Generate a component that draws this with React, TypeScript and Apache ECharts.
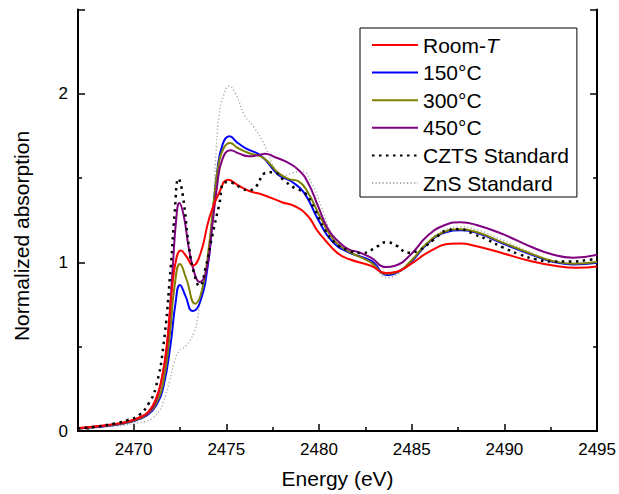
import React, { useEffect, useRef } from 'react';
import * as echarts from 'echarts';

const FONT = '"Liberation Sans", Arial, Helvetica, sans-serif';

const legendNames = ['Room-T', '150°C', '300°C', '450°C', 'CZTS Standard', 'ZnS Standard'];
const xTitle = 'Energy (eV)';
const yTitle = 'Normalized absorption';
const xRange = [2467, 2495];
const yRange = [0, 2.5];

const roomT: [number, number][] = [
  [2467, 0.018], [2468, 0.028], [2469, 0.042], [2469.7, 0.058], [2470.3, 0.08], [2470.8, 0.115],
  [2471.2, 0.19], [2471.5, 0.3], [2471.8, 0.52], [2472.05, 0.82], [2472.3, 1.02], [2472.55, 1.07],
  [2472.85, 1.035], [2473.2, 0.982], [2473.6, 1.05], [2474.1, 1.27], [2474.6, 1.41], [2475.1, 1.49],
  [2475.6, 1.46], [2476.2, 1.425], [2477.0, 1.4], [2478.0, 1.357], [2478.7, 1.333], [2479.4, 1.275],
  [2479.9, 1.19], [2480.3, 1.136], [2481.0, 1.055], [2481.6, 1.02], [2482.8, 0.98], [2483.6, 0.937],
  [2484.2, 0.945], [2484.95, 0.99], [2486.0, 1.067], [2487.1, 1.11], [2487.6, 1.112], [2488.5, 1.096],
  [2489.95, 1.053], [2491.4, 1.008], [2492.8, 0.978], [2493.9, 0.968], [2495, 0.975],
];

const c150: [number, number][] = [
  [2467, 0.015], [2468, 0.024], [2469, 0.036], [2469.7, 0.05], [2470.3, 0.07], [2470.8, 0.1],
  [2471.2, 0.15], [2471.6, 0.26], [2472.0, 0.52], [2472.25, 0.75], [2472.5, 0.866], [2472.8, 0.8],
  [2473.17, 0.712], [2473.55, 0.755], [2474.0, 0.98], [2474.25, 1.26], [2474.5, 1.53], [2474.8, 1.7],
  [2475.17, 1.748], [2475.6, 1.71], [2476.03, 1.678], [2476.9, 1.63], [2477.8, 1.52], [2478.5, 1.481],
  [2479.2, 1.412], [2479.95, 1.254], [2480.7, 1.126], [2481.6, 1.06], [2482.8, 1.01], [2483.7, 0.925],
  [2484.3, 0.945], [2484.95, 1.0], [2485.85, 1.11], [2486.75, 1.175], [2487.6, 1.19], [2488.5, 1.175],
  [2489.95, 1.11], [2491.4, 1.048], [2492.6, 1.004], [2493.7, 0.988], [2495, 0.998],
];

const c300: [number, number][] = [
  [2467, 0.015], [2468, 0.025], [2469, 0.038], [2469.7, 0.052], [2470.3, 0.073], [2470.8, 0.105],
  [2471.2, 0.16], [2471.6, 0.29], [2471.95, 0.57], [2472.2, 0.85], [2472.5, 0.99], [2472.85, 0.9],
  [2473.32, 0.755], [2473.7, 0.84], [2474.07, 1.1], [2474.33, 1.37], [2474.6, 1.59], [2474.87, 1.68],
  [2475.2, 1.708], [2475.6, 1.68], [2476.2, 1.649], [2477.0, 1.62], [2477.8, 1.531], [2478.35, 1.495],
  [2478.9, 1.481], [2479.42, 1.412], [2480.13, 1.254], [2480.85, 1.126], [2481.6, 1.065], [2482.8, 1.0],
  [2483.6, 0.933], [2484.15, 0.94], [2484.95, 1.008], [2485.85, 1.116], [2486.75, 1.18], [2487.6, 1.197],
  [2488.5, 1.18], [2489.95, 1.116], [2491.4, 1.053], [2492.6, 1.008], [2493.7, 0.992], [2495, 1.002],
];

const c450: [number, number][] = [
  [2467, 0.016], [2468, 0.026], [2469, 0.04], [2469.7, 0.055], [2470.3, 0.078], [2470.8, 0.11],
  [2471.2, 0.18], [2471.5, 0.3], [2471.8, 0.5], [2472.1, 0.95], [2472.3, 1.26], [2472.47, 1.353],
  [2472.7, 1.28], [2473.0, 1.07], [2473.3, 0.93], [2473.55, 0.884], [2473.9, 0.94], [2474.24, 1.215],
  [2474.5, 1.45], [2474.78, 1.61], [2475.23, 1.665], [2475.7, 1.645], [2476.2, 1.63], [2476.7, 1.635],
  [2477.1, 1.645], [2477.6, 1.625], [2478.17, 1.6], [2478.88, 1.55], [2479.42, 1.47], [2479.95, 1.333],
  [2480.5, 1.195], [2481.03, 1.126], [2481.6, 1.077], [2482.1, 1.062], [2482.8, 1.028], [2483.6, 0.972],
  [2484.1, 0.98], [2484.95, 1.047], [2485.84, 1.156], [2486.73, 1.219], [2487.63, 1.238], [2488.5, 1.222],
  [2489.95, 1.166], [2491.37, 1.096], [2492.6, 1.047], [2493.7, 1.028], [2495, 1.045],
];

const czts: [number, number][] = [
  [2467, 0.015], [2468, 0.026], [2469, 0.045], [2469.7, 0.065], [2470.3, 0.095], [2470.85, 0.17],
  [2471.2, 0.26], [2471.6, 0.5], [2472.0, 0.97], [2472.22, 1.3], [2472.42, 1.497], [2472.65, 1.4],
  [2473.0, 1.08], [2473.3, 0.92], [2473.55, 0.86], [2473.9, 0.978], [2474.24, 1.156], [2474.6, 1.333],
  [2474.95, 1.475], [2475.4, 1.47], [2475.8, 1.44], [2476.2, 1.428], [2476.6, 1.45], [2477.1, 1.53],
  [2477.5, 1.535], [2478.17, 1.481], [2478.7, 1.44], [2479.24, 1.412], [2479.77, 1.314], [2480.3, 1.195],
  [2480.85, 1.117], [2481.6, 1.07], [2482.3, 1.055], [2483.17, 1.096], [2483.6, 1.12], [2484.24, 1.096],
  [2484.77, 1.057], [2485.3, 1.067], [2486.2, 1.136], [2486.9, 1.19], [2487.6, 1.197], [2488.34, 1.168],
  [2489.06, 1.136], [2489.95, 1.087], [2490.84, 1.047], [2491.7, 1.018], [2492.6, 1.005], [2493.5, 1.005],
  [2494.6, 1.015], [2495, 1.02],
];

const zns: [number, number][] = [
  [2467, 0.01], [2468, 0.018], [2469, 0.028], [2469.7, 0.038], [2470.3, 0.05], [2470.6, 0.055],
  [2471.0, 0.075], [2471.4, 0.12], [2471.6, 0.17], [2471.93, 0.29], [2472.19, 0.406], [2472.46, 0.475],
  [2472.82, 0.505], [2473.26, 0.584], [2473.44, 0.663], [2473.62, 0.8], [2473.95, 1.0], [2474.24, 1.25],
  [2474.42, 1.6], [2474.6, 1.866], [2474.85, 1.99], [2475.15, 2.045], [2475.5, 2.0], [2476.0, 1.87],
  [2476.5, 1.8], [2477.1, 1.688], [2477.63, 1.55], [2478.0, 1.51], [2478.53, 1.53], [2479.06, 1.54],
  [2479.6, 1.47], [2480.13, 1.33], [2480.7, 1.17], [2481.6, 1.07], [2482.8, 1.0], [2483.7, 0.91],
  [2484.3, 0.935], [2484.95, 1.0], [2485.85, 1.115], [2486.75, 1.19], [2487.6, 1.21], [2488.5, 1.195],
  [2489.95, 1.13], [2491.4, 1.06], [2492.6, 1.01], [2493.7, 0.99], [2495, 0.995],
];

export default function App() {
  const ref = useRef<HTMLDivElement>(null);
  useEffect(() => {
    document.body.style.margin = '0';
    const chart = echarts.init(ref.current!, null, { renderer: 'svg' });
    const line = (name: string, data: [number, number][], color: string, width: number, type: any = 'solid') => ({
      name,
      type: 'line',
      data,
      smooth: 0.5,
      symbol: 'none',
      showSymbol: false,
      silent: true,
      lineStyle: { color, width, type },
      itemStyle: { color },
      emphasis: { disabled: true },
    });
    const axisCommon = {
      axisLine: { show: true, lineStyle: { color: '#000', width: 2 } },
      splitLine: { show: false },
    };
    const tickStyle = { color: '#000', width: 1.5 };
    chart.setOption({
      animation: false,
      grid: { left: 78, right: 18, top: 9.5, bottom: 62, containLabel: false },
      xAxis: [
        {
          ...axisCommon,
          type: 'value',
          position: 'bottom',
          min: xRange[0],
          max: xRange[1],
          axisTick: { show: true, inside: true, length: 7, lineStyle: tickStyle },
          minorTick: { show: true, splitNumber: 2, length: 4, lineStyle: tickStyle },
          minorSplitLine: { show: false },
          axisLabel: {
            show: true,
            showMinLabel: false,
            margin: 10,
            color: '#000',
            fontSize: 17,
            fontFamily: FONT,
            formatter: (v: number) => String(v),
          },
          name: xTitle,
          nameLocation: 'middle',
          nameGap: 37,
          nameTextStyle: { color: '#000', fontSize: 21, fontFamily: FONT },
        },
        {
          ...axisCommon,
          type: 'value',
          position: 'top',
          min: xRange[0],
          max: xRange[1],
          axisTick: { show: false },
          axisLabel: { show: false },
        },
      ],
      yAxis: [
        {
          ...axisCommon,
          type: 'value',
          position: 'left',
          min: yRange[0],
          max: yRange[1],
          interval: 1,
          axisTick: { show: true, inside: true, length: 7, lineStyle: tickStyle },
          minorTick: { show: true, splitNumber: 2, length: 4, lineStyle: tickStyle },
          minorSplitLine: { show: false },
          axisLabel: {
            show: true,
            showMaxLabel: false,
            margin: 10,
            color: '#000',
            fontSize: 17,
            fontFamily: FONT,
            formatter: (v: number) => String(v),
          },
        },
        {
          ...axisCommon,
          type: 'value',
          position: 'right',
          min: yRange[0],
          max: yRange[1],
          interval: 1,
          axisTick: { show: true, inside: true, length: 7, lineStyle: tickStyle },
          minorTick: { show: true, splitNumber: 2, length: 4, lineStyle: tickStyle },
          minorSplitLine: { show: false },
          axisLabel: { show: false },
        },
      ],
      legend: {
        orient: 'vertical',
        left: 360,
        top: 28,
        data: legendNames,
        itemWidth: 46,
        itemHeight: 14,
        itemGap: 5.6,
        padding: [6, 8, 3, 11],
        backgroundColor: '#fff',
        borderColor: '#000',
        borderWidth: 1,
        borderRadius: 0,
        selectedMode: false,
        itemStyle: { opacity: 0 },
        formatter: (n: string) => (n === 'Room-T' ? 'Room-{it|T}' : n),
        textStyle: {
          color: '#000',
          fontSize: 21,
          fontFamily: FONT,
          lineHeight: 22,
          rich: {
            it: { fontStyle: 'italic', fontSize: 21, fontFamily: FONT, lineHeight: 22, color: '#000' },
          },
        },
      },
      graphic: [
        {
          type: 'text',
          x: 21,
          y: 236,
          rotation: Math.PI / 2,
          silent: true,
          style: {
            text: yTitle,
            font: `21px ${FONT}`,
            fill: '#000',
            align: 'center',
            verticalAlign: 'middle',
          },
        },
      ],
      series: [
        line(legendNames[5], zns, '#a9a9a9', 1.4, [1.2, 2.3]),
        line(legendNames[1], c150, '#0000ff', 2),
        line(legendNames[2], c300, '#808000', 2),
        line(legendNames[3], c450, '#800080', 2),
        line(legendNames[0], roomT, '#ff0000', 2),
        line(legendNames[4], czts, '#000000', 2.5, [2.5, 4.5]),
      ],
    });
    return () => chart.dispose();
  }, []);
  return <div ref={ref} style={{ position: 'absolute', left: 0, top: 0, width: 619, height: 494 }} />;
}
